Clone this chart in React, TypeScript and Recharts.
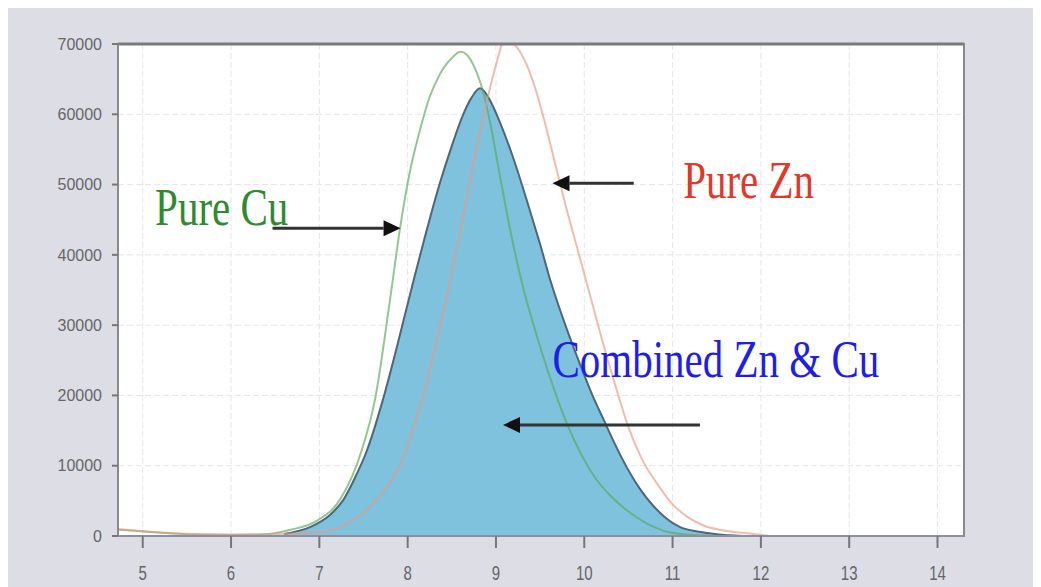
import React from 'react';
import {
  ComposedChart,
  Area,
  Line,
  XAxis,
  YAxis,
  CartesianGrid,
  ReferenceArea,
  ReferenceLine,
  ReferenceDot,
} from 'recharts';

// x ticks / y ticks
const xTicks = [5, 6, 7, 8, 9, 10, 11, 12, 13, 14];
const yTicks = [0, 10000, 20000, 30000, 40000, 50000, 60000, 70000];

// Pure Cu (green line)
const cuX = [4.72, 5.2, 5.6, 6.0, 6.4, 6.66, 6.99, 7.23, 7.48, 7.63, 7.8, 7.92, 8.02, 8.14, 8.25, 8.36, 8.5, 8.6, 8.7, 8.78, 8.86, 8.95, 9.04, 9.17, 9.3, 9.45, 9.6, 9.8, 9.97, 10.14, 10.33, 10.52, 10.75, 10.97, 11.3, 11.6, 12.5, 14.3];
const cuY = [900, 500, 200, 150, 250, 850, 2300, 5100, 12200, 19400, 33600, 44300, 51500, 57800, 62500, 65600, 68000, 68900, 68000, 66000, 63000, 57800, 51600, 43000, 35700, 29000, 23000, 16100, 11500, 8000, 5300, 3300, 1500, 500, 100, 0, 0, 0];

// Pure Zn (orange line)
const znX = [4.72, 5.3, 6.0, 6.6, 7.15, 7.35, 7.54, 7.72, 7.91, 8.07, 8.22, 8.36, 8.5, 8.62, 8.76, 8.9, 9.0, 9.1, 9.24, 9.35, 9.45, 9.55, 9.67, 9.8, 9.93, 10.06, 10.2, 10.35, 10.5, 10.65, 10.85, 11.0, 11.16, 11.35, 11.53, 11.75, 11.91, 12.1];
const znY = [1000, 400, 200, 300, 850, 2000, 3700, 6200, 10000, 15500, 22000, 29500, 37500, 45000, 54000, 62000, 67000, 70600, 69500, 67000, 63500, 59000, 53000, 46500, 40500, 34500, 28000, 21500, 15500, 11000, 7000, 4500, 2800, 1500, 900, 500, 300, 0];

// Combined Zn & Cu (blue area)
const combX = [6.6, 6.9, 7.12, 7.27, 7.4, 7.54, 7.72, 7.85, 7.97, 8.08, 8.19, 8.28, 8.36, 8.5, 8.62, 8.72, 8.82, 8.9, 9.04, 9.19, 9.38, 9.5, 9.62, 9.8, 9.95, 10.1, 10.21, 10.35, 10.48, 10.63, 10.78, 10.93, 11.08, 11.3, 11.5, 11.8];
const combY = [300, 1300, 3000, 5100, 8200, 12200, 19400, 25500, 31500, 37000, 42300, 46500, 50000, 55500, 59700, 62300, 63700, 62700, 59000, 54000, 46500, 41500, 36200, 29500, 24500, 19800, 16800, 13000, 9800, 6700, 4300, 2500, 1300, 600, 250, 0];

const zip = (xs: number[], ys: number[]) => xs.map((x, i) => ({ x, v: ys[i] }));
const cuData = zip(cuX, cuY);
const znData = zip(znX, znY);
const combData = zip(combX, combY);

// annotations (data coords)
const arrows = [
  { from: { x: 6.47, y: 43800 }, to: { x: 7.92, y: 43800 } },
  { from: { x: 10.56, y: 50200 }, to: { x: 9.64, y: 50200 } },
  { from: { x: 11.31, y: 15800 }, to: { x: 9.08, y: 15800 } },
];
const notes = [
  { x: 5.14, y: 44300, text: 'Pure Cu', color: '#2f8a2f' },
  { x: 11.12, y: 48100, text: 'Pure Zn', color: '#e0382a' },
  { x: 9.64, y: 22600, text: 'Combined Zn & Cu', color: '#1e1ee8' },
];

const Arrow = (p: any) => {
  const { x1, y1, x2, y2 } = p;
  const dx = x2 - x1;
  const dy = y2 - y1;
  const len = Math.sqrt(dx * dx + dy * dy) || 1;
  const ux = dx / len;
  const uy = dy / len;
  const hl = 17;
  const hw = 8;
  const bx = x2 - ux * hl;
  const by = y2 - uy * hl;
  return (
    <g>
      <line x1={x1} y1={y1} x2={bx} y2={by} stroke="#333" strokeWidth={3} />
      <polygon
        points={`${x2},${y2} ${bx - uy * hw},${by + ux * hw} ${bx + uy * hw},${by - ux * hw}`}
        fill="#111"
      />
    </g>
  );
};

const XTick = (p: any) => (
  <g transform={`translate(${p.x},${p.y})`}>
    <text textAnchor="middle" fill="#666" fontSize={15} dy="0.71em" transform="scale(1,1.4)">
      {p.payload.value}
    </text>
  </g>
);

export default function App() {
  return (
    <div style={{ width: 1033, height: 579, background: '#dddde6', fontFamily: 'Liberation Sans, Arial, sans-serif' }}>
      <ComposedChart width={1033} height={579} margin={{ top: 36, right: 77, bottom: 0, left: 0 }}>
        <CartesianGrid fill="#ffffff" stroke="#e6e6ea" strokeDasharray="6 3" verticalValues={xTicks} horizontalValues={yTicks} />
        <XAxis
          type="number"
          dataKey="x"
          domain={[4.72, 14.3]}
          ticks={xTicks}
          allowDataOverflow
          height={51}
          tickSize={12}
          tickMargin={17}
          stroke="#8a8a8a"
          axisLine={{ stroke: '#8d8fa0', strokeWidth: 2 }}
          tickLine={{ stroke: '#777', strokeWidth: 2 }}
          tick={<XTick />}
        />
        <YAxis
          type="number"
          domain={[0, 70000]}
          ticks={yTicks}
          allowDataOverflow
          width={110}
          tickSize={6}
          tickMargin={10}
          axisLine={{ stroke: '#8a8a8a', strokeWidth: 2 }}
          tickLine={{ stroke: '#777', strokeWidth: 2 }}
          tick={{ fill: '#666', fontSize: 16 }}
        />
        <Area
          data={combData}
          dataKey="v"
          type="monotone"
          fill="#7fc2de"
          fillOpacity={1}
          stroke="#4f6676"
          strokeWidth={2}
          dot={false}
          isAnimationActive={false}
        />
        <Line
          data={cuData}
          dataKey="v"
          type="monotone"
          stroke="#5aa85a"
          strokeOpacity={0.65}
          strokeWidth={2}
          dot={false}
          isAnimationActive={false}
        />
        <Line
          data={znData}
          dataKey="v"
          type="monotone"
          stroke="#e89a80"
          strokeOpacity={0.65}
          strokeWidth={2}
          dot={false}
          isAnimationActive={false}
        />
        <ReferenceArea x1={4.72} x2={14.3} y1={0} y2={70000} fill="none" stroke="#8a8a8a" strokeWidth={2} ifOverflow="visible" />
        <ReferenceLine y={70000} stroke="#7a7a7a" strokeWidth={3} ifOverflow="visible" />
        {arrows.map((a, i) => (
          <ReferenceLine key={'a' + i} segment={[a.from, a.to]} ifOverflow="visible" shape={Arrow} />
        ))}
        {notes.map((n) => (
          <ReferenceDot
            key={n.text}
            x={n.x}
            y={n.y}
            r={0}
            ifOverflow="visible"
            shape={(p: any) => (
              <g transform={`translate(${p.cx},${p.cy})`}>
                <text
                  x={0}
                  y={0}
                  fill={n.color}
                  fontSize={41}
                  fontFamily="Liberation Serif, Times New Roman, serif"
                  transform="scale(1,1.3)"
                >
                  {n.text}
                </text>
              </g>
            )}
          />
        ))}
      </ComposedChart>
    </div>
  );
}
